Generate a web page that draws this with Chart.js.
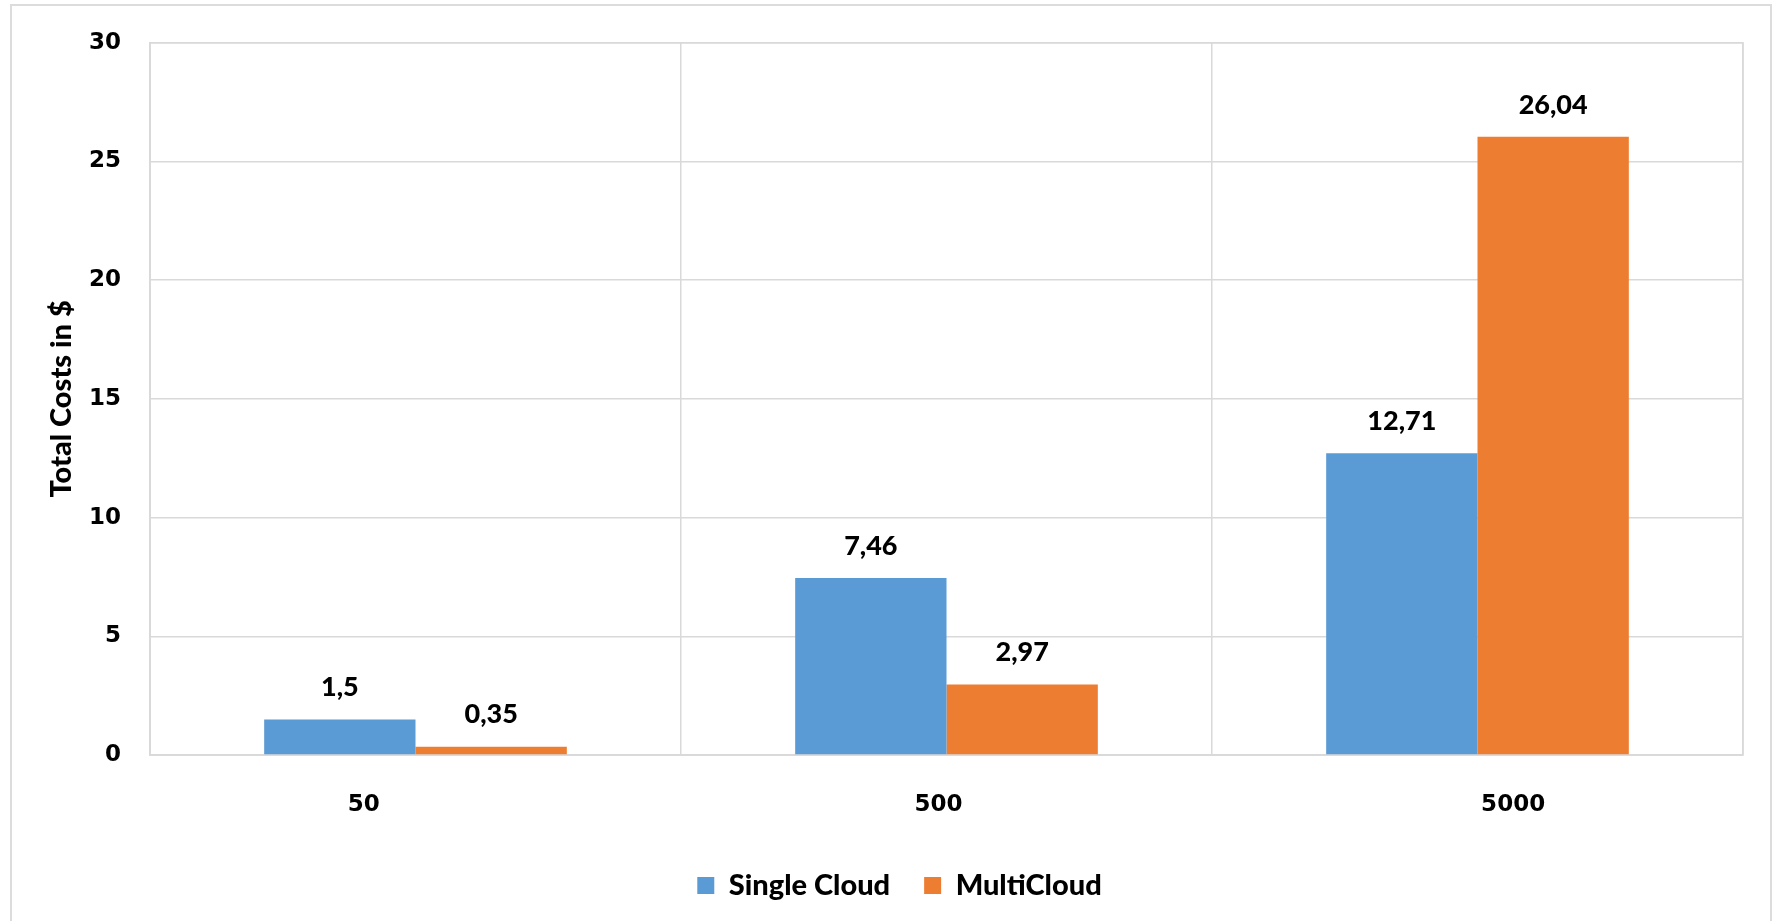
<!doctype html>
<html lang="en"><head>
<meta charset="utf-8"/>
<title>Total costs</title>
<script src="https://cdn.jsdelivr.net/npm/chart.js@4.4.6/dist/chart.umd.min.js"></script>
<style>
  *{box-sizing:border-box}
  html,body{margin:0;width:1773px;height:921px;overflow:hidden;background:#fff}
  .frame{position:absolute;left:10px;top:4px;width:1762px;height:1000px;border:2px solid #dcdcdc}
  .wrap{position:absolute;left:0;top:0;width:1773px;height:921px}
</style></head>
<body>
<div class="frame"></div>
<div class="wrap"><canvas id="c" width="1773" height="921"></canvas></div>
<script>
const categories=['50','500','5000'];
const singleCloud=[1.5,7.46,12.71];
const multiCloud=[0.35,2.97,26.04];
const yTicks=[0,5,10,15,20,25,30];

const LABEL_FONT='Lato, "Noto Sans", sans-serif';
const TICK_FONT='"DejaVu Sans", Verdana, sans-serif';
const GRID='#d9d9d9';

// value labels above each bar, decimal comma
const valueLabels={
  id:'valueLabels',
  afterDatasetsDraw(chart){
    const ctx=chart.ctx;
    ctx.save();
    ctx.font='900 27px '+LABEL_FONT;
    ctx.fillStyle='#000';
    ctx.textAlign='center';
    ctx.textBaseline='middle';
    chart.data.datasets.forEach((ds,i)=>{
      chart.getDatasetMeta(i).data.forEach((bar,j)=>{
        ctx.fillText(String(ds.data[j]).replace('.',','),bar.x,bar.y-32);
      });
    });
    ctx.restore();
  }
};

// frame round the plot area
const plotBorder={
  id:'plotBorder',
  beforeDatasetsDraw(chart){
    const {ctx,chartArea:a}=chart;
    ctx.save();
    ctx.strokeStyle=GRID;ctx.lineWidth=1.5;
    ctx.strokeRect(a.left,a.top,a.right-a.left,a.bottom-a.top);
    ctx.restore();
  }
};

// nudge the legend a little right of the canvas centre
const legendShift={
  id:'legendShift',
  afterLayout(chart){
    const lg=chart.legend;
    if(lg){lg.left+=28;lg.right+=28;}
  }
};

new Chart(document.getElementById('c'),{
  type:'bar',
  data:{labels:categories,datasets:[
    {label:'Single Cloud',data:singleCloud,backgroundColor:'#5b9bd5'},
    {label:'MultiCloud',data:multiCloud,backgroundColor:'#ed7d31'}
  ]},
  options:{
    responsive:false,animation:false,
    layout:{padding:{left:0,right:30,top:39,bottom:11}},
    datasets:{bar:{barPercentage:1,categoryPercentage:0.57}},
    plugins:{
      legend:{position:'bottom',labels:{color:'#000',font:{family:LABEL_FONT,size:29,weight:'900'},boxWidth:17,boxHeight:17,padding:34}},
      tooltip:{enabled:false}
    },
    scales:{
      x:{
        grid:{color:GRID,lineWidth:1.5,drawTicks:false,offset:true},
        border:{color:GRID,width:1.5},
        ticks:{display:false},
        afterFit(s){s.height=0;}
      },
      // category names sit on their own wider-spaced axis
      xLabels:{
        type:'linear',position:'bottom',offset:false,min:-0.372,max:2.4,
        afterBuildTicks(s){s.ticks=categories.map((c,i)=>({value:i}));},
        grid:{display:false,offset:false},border:{display:false},
        ticks:{color:'#000',font:{family:TICK_FONT,size:23,weight:'bold'},padding:28,callback:(v)=>categories[v]},
        afterFit(s){s.height=82;}
      },
      y:{
        min:0,max:30,
        afterBuildTicks(s){s.ticks=yTicks.map(v=>({value:v}));},
        grid:{color:GRID,lineWidth:1.5,drawTicks:false},
        border:{color:GRID,width:1.5},
        ticks:{color:'#000',font:{family:TICK_FONT,size:23,weight:'bold'},padding:29},
        title:{display:true,text:'Total Costs in $',color:'#000',font:{family:LABEL_FONT,size:29,weight:'900'},padding:{top:44,bottom:0}},
        afterFit(s){s.width=150;}
      }
    }
  },
  plugins:[valueLabels,plotBorder,legendShift]
});
</script>
</body></html>
